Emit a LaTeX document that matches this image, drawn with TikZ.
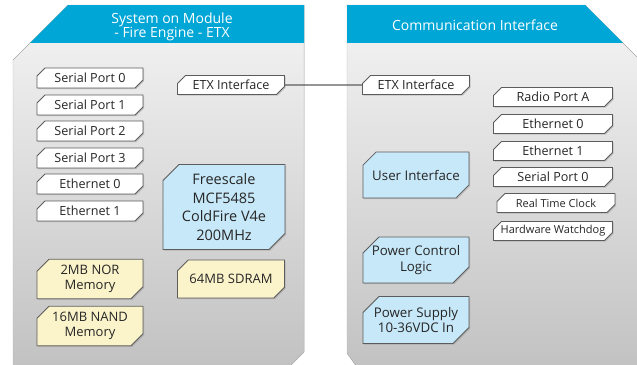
\documentclass[tikz,border=0pt]{standalone}
\usepackage{fontspec}
\setmainfont{Open Sans}
\usetikzlibrary{shapes.misc,shadows}

\definecolor{hdrblue}{HTML}{00A6D6}
\definecolor{cpublue}{HTML}{C7E8F8}
\definecolor{memcream}{HTML}{FBF4CB}
\definecolor{boxedge}{HTML}{5C5C5C}
\definecolor{paneledge}{HTML}{B4B4B4}
\definecolor{labeltext}{HTML}{262626}

\tikzset{
  unit/.style={chamfered rectangle, chamfered rectangle corners={north west,south east},
    chamfered rectangle sep=4pt, draw=boxedge, line width=0.8pt, fill=white,
    inner sep=0pt, align=center, text=labeltext, font=\fontsize{12.6}{14}\selectfont,
    drop shadow={shadow xshift=1.2pt, shadow yshift=-1.2pt, opacity=0.35}},
  port/.style={unit, minimum width=106pt, minimum height=20pt},
  bigunit/.style={unit, chamfered rectangle sep=8pt, font=\fontsize{13.3}{15.5}\selectfont},
  cpu/.style={bigunit, fill=cpublue, minimum width=106pt, minimum height=46pt},
  mem/.style={unit, fill=memcream, chamfered rectangle sep=6pt,
    minimum width=106pt, minimum height=38pt, font=\fontsize{13}{15}\selectfont},
}

\begin{document}
\begin{tikzpicture}[x=1pt,y=-1pt]
  \useasboundingbox (0,0) rectangle (637,364);
  \clip (0,0) rectangle (637,364);

  % left panel
  \fill[top color=white!96!black, bottom color=white!76!black, draw=paneledge]
    (68,5) -- (304,5) -- (304,352) -- (290,366) -- (13,366) -- (13,60) -- cycle;
  \begin{scope}
    \clip (68,5) -- (304,5) -- (304,352) -- (290,366) -- (13,366) -- (13,60) -- cycle;
    \fill[hdrblue] (0,0) rectangle (310,43);
  \end{scope}
  \node[text=white, align=center, font=\fontsize{14}{14}\selectfont] (lhead)
    at (172,27) {System on Module\\- Fire Engine - ETX};

  % right panel
  \fill[top color=white!96!black, bottom color=white!76!black, draw=paneledge]
    (347,5) -- (585,5) -- (645,65) -- (645,370) -- (359,370) -- (347,353) -- cycle;
  \begin{scope}
    \clip (347,5) -- (585,5) -- (645,65) -- (645,370) -- (359,370) -- (347,353) -- cycle;
    \fill[hdrblue] (340,0) rectangle (640,43);
  \end{scope}
  \node[text=white, font=\fontsize{14}{14}\selectfont] (rhead)
    at (475,25) {Communication Interface};

  % left column
  \node[port] (sp0) at (90,78) {Serial Port 0};
  \node[port] (sp1) at (90,105) {Serial Port 1};
  \node[port] (sp2) at (90,131) {Serial Port 2};
  \node[port] (sp3) at (90,158) {Serial Port 3};
  \node[port] (eth0) at (90,184) {Ethernet 0};
  \node[port] (eth1) at (90,211) {Ethernet 1};
  \node[mem] (nor) at (90,279) {2MB NOR\\Memory};
  \node[mem] (nand) at (90,326) {16MB NAND\\Memory};

  \node[port, minimum width=107pt, minimum height=19pt] (etxl) at (231,85) {ETX Interface};
  \node[cpu, minimum width=122pt, minimum height=85pt, font=\fontsize{14.5}{18.5}\selectfont]
    (cpu) at (224,207) {Freescale\\MCF5485\\ColdFire V4e\\200MHz};
  \node[mem, minimum width=107pt] (sdram) at (231,279) {64MB SDRAM};

  % right column
  \node[port, minimum width=107pt, minimum height=19pt] (etxr) at (416,85) {ETX Interface};
  \node[cpu] (ui) at (416,175) {User Interface};
  \node[cpu] (pwrctl) at (416,260) {Power Control\\Logic};
  \node[cpu, minimum height=47pt] (pwrsup) at (416,320) {Power Supply\\10-36VDC In};

  \node[port, minimum width=119pt, minimum height=19pt] (radio) at (553,97) {Radio Port A};
  \node[port, minimum width=119pt, minimum height=19pt] (reth0) at (553,124) {Ethernet 0};
  \node[port, minimum width=119pt, minimum height=19pt] (reth1) at (553,151) {Ethernet 1};
  \node[port, minimum width=119pt, minimum height=19pt] (rsp0) at (553,177) {Serial Port 0};
  \node[port, minimum width=118pt, minimum height=19pt, font=\fontsize{11}{12}\selectfont]
    (rtc) at (556,203) {Real Time Clock};
  \node[port, minimum width=119pt, minimum height=19pt, font=\fontsize{11}{12}\selectfont]
    (wdog) at (553,231) {Hardware Watchdog};

  \draw[boxedge, line width=1.4pt] (etxl) -- (etxr);
\end{tikzpicture}
\end{document}
